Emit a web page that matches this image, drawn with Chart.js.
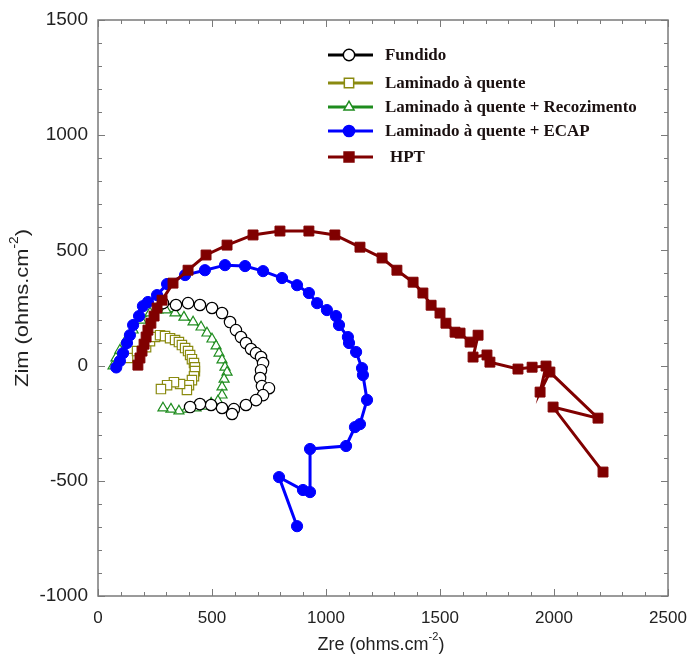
<!DOCTYPE html>
<html>
<head>
<meta charset="utf-8">
<script src="https://cdn.jsdelivr.net/npm/chart.js@4.4.0/dist/chart.umd.min.js"></script>
<style>
  html, body { margin: 0; padding: 0; background: #fff; }
  #wrap { width: 687px; height: 659px; }
</style>
</head>
<body>
<div id="wrap"><canvas id="nyquist"></canvas></div>
<script>
// axis ranges / ticks
const zreTicks = [0, 500, 1000, 1500, 2000, 2500];
const zimTicks = [-1000, -500, 0, 500, 1000, 1500];

const seriesNames = ['Fundido', 'Laminado à quente', 'Laminado à quente + Recozimento', 'Laminado à quente + ECAP', 'HPT'];

// Fundido
const fundidoZre = [285, 342, 395, 447, 500, 544, 579, 605, 627, 649, 671, 693, 715, 724, 715, 711, 719, 750, 724, 693, 649, 596, 588, 544, 496, 447, 404];
const fundidoZim = [271, 263, 271, 263, 250, 228, 189, 154, 124, 98, 72, 54, 37, 11, -20, -54, -89, -98, -128, -150, -171, -189, -210, -184, -171, -167, -180];

// Laminado a quente
const laminadoZre = [132, 171, 211, 228, 250, 272, 294, 316, 338, 355, 368, 382, 395, 404, 412, 421, 425, 425, 421, 412, 399, 390, 360, 333, 303, 276];
const laminadoZim = [33, 63, 80, 106, 124, 132, 128, 119, 111, 102, 89, 76, 63, 46, 28, 11, -7, -24, -46, -63, -85, -106, -80, -72, -85, -102];

// Laminado a quente + Recozimento
const recozZre = [66, 79, 96, 123, 154, 189, 228, 263, 298, 338, 377, 417, 452, 478, 500, 518, 531, 544, 557, 566, 553, 544, 544, 526, 496, 465, 430, 390, 355, 320, 285];
const recozZim = [-2, 33, 67, 111, 154, 197, 228, 241, 241, 228, 210, 189, 167, 141, 115, 85, 54, 24, -7, -29, -59, -93, -128, -154, -163, -176, -184, -189, -197, -189, -184];

// Laminado a quente + ECAP
const ecapZre = [80, 96, 110, 127, 140, 154, 180, 197, 219, 259, 303, 382, 469, 557, 645, 724, 807, 873, 925, 961, 1004, 1044, 1057, 1096, 1101, 1132, 1158, 1162, 1180, 1149, 1127, 1088, 930, 930, 899, 794, 873];
const ecapZim = [-8, 20, 54, 98, 132, 176, 215, 258, 276, 306, 354, 393, 414, 436, 432, 410, 380, 349, 315, 271, 241, 215, 176, 124, 98, 59, -11, -41, -149, -254, -267, -349, -362, -549, -540, -484, -697];

// HPT
const hptZre = [175, 184, 193, 202, 211, 219, 232, 246, 259, 281, 329, 395, 474, 566, 680, 798, 925, 1039, 1149, 1246, 1311, 1382, 1425, 1461, 1500, 1526, 1566, 1588, 1632, 1667, 1645, 1706, 1719, 1842, 1904, 1965, 1939, 1982, 2193, 1996, 2215];
const hptZim = [2, 33, 63, 93, 124, 154, 184, 215, 250, 284, 358, 414, 480, 523, 567, 584, 584, 567, 514, 467, 414, 362, 315, 262, 228, 184, 145, 141, 102, 132, 37, 46, 15, -15, -7, -2, -115, -28, -228, -180, -462];

const toPoints = (xs, ys) => xs.map((v, i) => ({x: v, y: ys[i]}));

const datasets = [
    {label: seriesNames[0], data: toPoints(fundidoZre, fundidoZim), borderColor: '#000000', backgroundColor: '#ffffff',
     borderWidth: 1.5, pointStyle: 'circle', pointRadius: 5.7, pointBorderWidth: 1.2, order: 3},
    {label: seriesNames[1], data: toPoints(laminadoZre, laminadoZim), borderColor: '#8a8a10', backgroundColor: '#ffffff',
     borderWidth: 1.5, pointStyle: 'rect', pointRadius: 6.6, pointBorderWidth: 1.2, order: 5},
    {label: seriesNames[2], data: toPoints(recozZre, recozZim), borderColor: '#1e8c1e', backgroundColor: '#ffffff',
     borderWidth: 1.5, pointStyle: 'triangle', pointRadius: 5.8, pointBorderWidth: 1.2, order: 4},
    {label: seriesNames[3], data: toPoints(ecapZre, ecapZim), borderColor: '#0000ff', backgroundColor: '#0000ff',
     borderWidth: 3, pointStyle: 'circle', pointRadius: 5.6, pointBorderWidth: 1, order: 2},
    {label: seriesNames[4], data: toPoints(hptZre, hptZim), borderColor: '#800000', backgroundColor: '#800000',
     borderWidth: 3, pointStyle: 'rect', pointRadius: 7, pointBorderWidth: 1, order: 1}
];
datasets.forEach(ds => { ds.showLine = true; ds.pointBackgroundColor = ds.backgroundColor; ds.pointBorderColor = ds.borderColor; });

// draw a title with a "-2" superscript
const drawTitle = (ctx, main, sup, tail, size) => {
    const big = `${size}px "Liberation Sans", Arial, sans-serif`;
    const small = `${Math.round(size * 0.62)}px "Liberation Sans", Arial, sans-serif`;
    ctx.font = big;
    const w1 = ctx.measureText(main).width;
    const w3 = ctx.measureText(tail).width;
    ctx.font = small;
    const w2 = ctx.measureText(sup).width;
    let x = -(w1 + w2 + w3) / 2;
    ctx.textAlign = 'left';
    ctx.textBaseline = 'middle';
    ctx.font = big;
    ctx.fillText(main, x, 0);
    x += w1;
    ctx.font = small;
    ctx.fillText(sup, x, -size * 0.42);
    x += w2;
    ctx.font = big;
    ctx.fillText(tail, x, 0);
};

const framePlugin = {
    id: 'frame',
    afterDatasetsDraw(chart) {
        const {ctx, chartArea: a, scales: {x, y}} = chart;
        ctx.save();
        ctx.strokeStyle = '#7a7a7a';
        ctx.lineWidth = 1.5;
        ctx.strokeRect(a.left, a.top, a.right - a.left, a.bottom - a.top);
        ctx.lineWidth = 1;
        ctx.beginPath();
        for (let v = zreTicks[0]; v <= zreTicks[zreTicks.length - 1]; v += 100) {
            const px = Math.round(x.getPixelForValue(v)) + 0.5;
            const len = v % 500 === 0 ? 7 : 4;
            ctx.moveTo(px, a.bottom); ctx.lineTo(px, a.bottom - len);
            ctx.moveTo(px, a.top); ctx.lineTo(px, a.top + len);
        }
        for (let v = zimTicks[0]; v <= zimTicks[zimTicks.length - 1]; v += 100) {
            const py = Math.round(y.getPixelForValue(v)) + 0.5;
            const len = v % 500 === 0 ? 7 : 4;
            ctx.moveTo(a.left, py); ctx.lineTo(a.left + len, py);
            ctx.moveTo(a.right, py); ctx.lineTo(a.right - len, py);
        }
        ctx.stroke();
        ctx.restore();

        // axis titles
        ctx.save();
        ctx.fillStyle = '#222';
        ctx.translate(381, 645);
        drawTitle(ctx, 'Zre (ohms.cm', '-2', ')', 18);
        ctx.restore();
        ctx.save();
        ctx.fillStyle = '#222';
        ctx.translate(23, 308);
        ctx.rotate(-Math.PI / 2);
        ctx.scale(1.15, 1);
        drawTitle(ctx, 'Zim (ohms.cm', '-2', ')', 19);
        ctx.restore();

        // legend inside the plot
        const rows = [55, 83, 107, 131, 157];
        ctx.save();
        chart.data.datasets.forEach((ds, i) => {
            const yy = rows[i];
            ctx.strokeStyle = ds.borderColor;
            ctx.lineWidth = 3;
            ctx.beginPath();
            ctx.moveTo(328, yy); ctx.lineTo(373, yy);
            ctx.stroke();
            ctx.fillStyle = ds.pointBackgroundColor;
            ctx.lineWidth = 1.5;
            Chart.helpers.drawPoint(ctx, {pointStyle: ds.pointStyle, radius: ds.pointRadius, borderWidth: 1.5, rotation: 0}, 349, yy);
            ctx.save();
            ctx.translate(i === 4 ? 390 : 385, yy + 1);
            ctx.scale(1.06, 1);
            ctx.fillStyle = '#1a1010';
            ctx.font = 'bold 16px "Liberation Serif", "Times New Roman", serif';
            ctx.textAlign = 'left';
            ctx.textBaseline = 'middle';
            ctx.fillText(ds.label, 0, 0);
            ctx.restore();
        });
        ctx.restore();
    }
};

new Chart('nyquist', {
    type: 'scatter',
    data: {datasets: datasets},
    options: {
        responsive: true,
        maintainAspectRatio: false,
        animation: false,
        events: [],
        layout: {padding: {top: 20, right: 19, left: 0, bottom: 0}},
        plugins: {legend: {display: false}, tooltip: {enabled: false}},
        scales: {
            x: {
                type: 'linear',
                min: zreTicks[0],
                max: zreTicks[zreTicks.length - 1],
                afterFit: scale => { scale.height = 63; scale.paddingLeft = 0; scale.paddingRight = 0; },
                afterBuildTicks: scale => { scale.ticks = zreTicks.map(v => ({value: v})); },
                grid: {display: false, drawTicks: false},
                border: {display: false},
                ticks: {padding: 12, color: '#222', callback: v => String(v),
                        font: {size: 17, family: '"Liberation Sans", Arial, sans-serif'}}
            },
            y: {
                type: 'linear',
                min: zimTicks[0],
                max: zimTicks[zimTicks.length - 1],
                afterFit: scale => { scale.width = 98; scale.paddingTop = 0; scale.paddingBottom = 0; },
                afterBuildTicks: scale => { scale.ticks = zimTicks.map(v => ({value: v})); },
                grid: {display: false, drawTicks: false},
                border: {display: false},
                ticks: {padding: 10, color: '#222', callback: v => String(v),
                        font: {size: 19, family: '"Liberation Sans", Arial, sans-serif'}}
            }
        }
    },
    plugins: [framePlugin]
});
</script>
</body>
</html>
